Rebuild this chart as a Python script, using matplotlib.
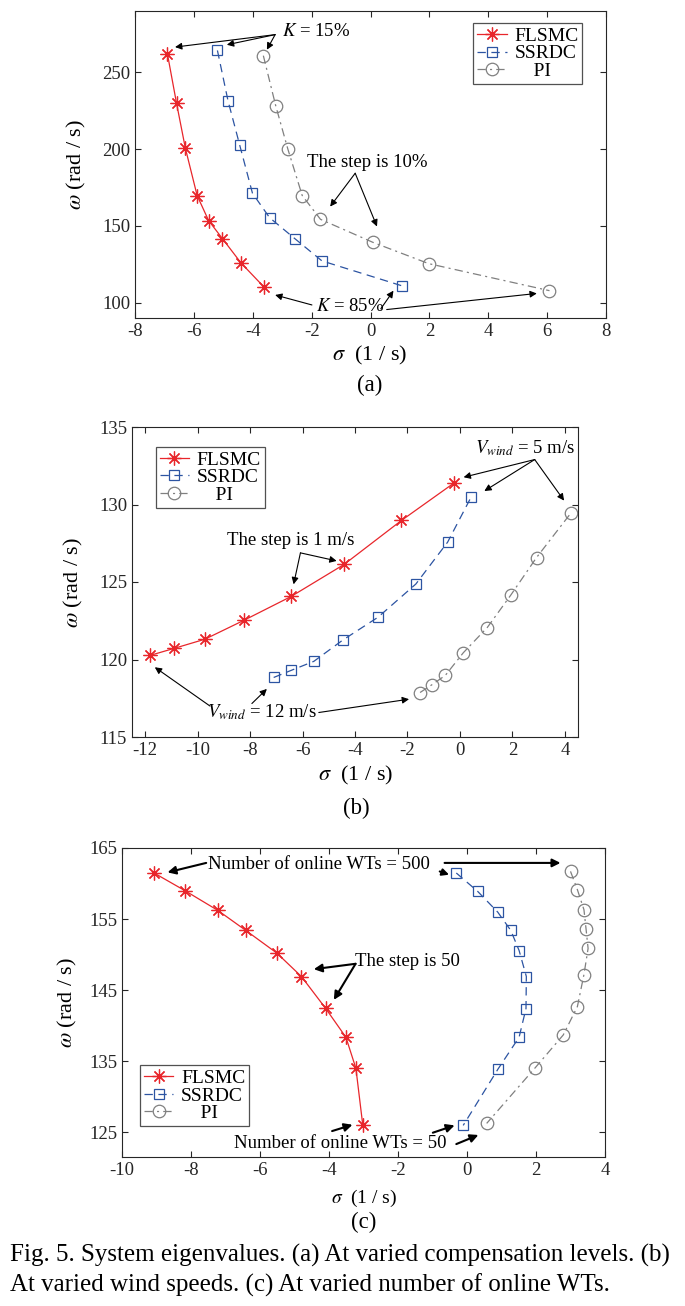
import matplotlib
matplotlib.use("Agg")
from matplotlib import pyplot as plt
import numpy as np

plt.rcParams['font.family'] = ['Liberation Serif', 'DejaVu Serif']
plt.rcParams['mathtext.fontset'] = 'stix'
plt.rcParams['lines.scale_dashes'] = False
plt.rcParams['axes.unicode_minus'] = False

###################      data (a): varied compensation level      ###############
a_flsmc_x = [-6.90, -6.59, -6.29, -5.89, -5.50, -5.03, -4.40, -3.61]
a_flsmc_y = [262.2, 230.0, 200.7, 169.8, 153.5, 141.7, 125.9, 110.0]
a_ssrdc_x = [-5.20, -4.84, -4.44, -4.01, -3.43, -2.57, -1.65, 1.08]
a_ssrdc_y = [264.3, 231.5, 202.4, 171.3, 155.4, 141.7, 127.2, 110.9]
a_pi_x = [-3.64, -3.22, -2.81, -2.32, -1.70, 0.08, 1.98, 6.08]
a_pi_y = [260.9, 228.3, 200.2, 169.8, 154.3, 139.3, 125.4, 107.8]

###################      data (b): varied wind speed      #######################
b_flsmc_x = [-11.80, -10.89, -9.72, -8.22, -6.43, -4.41, -2.23, -0.24]
b_flsmc_y = [120.27, 120.72, 121.31, 122.54, 124.07, 126.14, 128.97, 131.37]
b_ssrdc_x = [-7.10, -6.43, -5.57, -4.46, -3.12, -1.68, -0.47, 0.42]
b_ssrdc_y = [118.84, 119.30, 119.88, 121.26, 122.73, 124.87, 127.57, 130.46]
b_pi_x = [-1.52, -1.07, -0.56, 0.13, 1.04, 1.94, 2.92, 4.24]
b_pi_y = [117.87, 118.37, 118.97, 120.44, 122.06, 124.16, 126.58, 129.47]

###################      data (c): varied number of online WTs      #############
c_flsmc_x = [-9.07, -8.17, -7.22, -6.41, -5.51, -4.80, -4.10, -3.51, -3.22, -3.02]
c_flsmc_y = [161.48, 158.98, 156.21, 153.39, 150.20, 146.91, 142.44, 138.36, 133.98, 125.95]
c_ssrdc_x = [-0.31, 0.31, 0.89, 1.27, 1.51, 1.72, 1.71, 1.51, 0.90, -0.11]
c_ssrdc_y = [161.48, 158.89, 155.98, 153.39, 150.57, 146.91, 142.40, 138.36, 133.89, 125.95]
c_pi_x = [3.00, 3.20, 3.39, 3.45, 3.51, 3.39, 3.20, 2.79, 1.98, 0.57]
c_pi_y = [161.71, 159.13, 156.31, 153.63, 150.86, 147.19, 142.68, 138.68, 134.08, 126.23]

labels = ['FLSMC', 'SSRDC', '    PI']

W, H = 685, 1306
fig = plt.figure(figsize=(W / 100, H / 100), dpi=100)


def px_axes(l, t, r, b):
    return fig.add_axes([l / W, 1 - b / H, (r - l) / W, (b - t) / H])


def draw(ax, fx, fy, sx, sy, px, py):
    ax.plot(fx, fy, color='#e8262b', lw=0.9, marker=(8, 2, 0), ms=10,
            mew=0.9, label=labels[0])
    ax.plot(sx, sy, color='#2c54a2', lw=0.9, ls=(0, (6, 4)), marker='s',
            ms=7.5, mfc='none', mew=0.9, label=labels[1])
    ax.plot(px, py, color='#808080', lw=0.9, ls=(0, (6, 3, 1.5, 3)),
            marker='o', ms=9, mfc='none', mew=0.9, label=labels[2])
    ax.tick_params(direction='in', top=True, right=True, labelsize=13.5,
                   colors='#262626', length=4, width=0.8)
    for s in ax.spines.values():
        s.set_color('#262626')
        s.set_linewidth(0.8)


def leg(ax, loc, anchor=None):
    kw = dict(loc=loc, fontsize=14, frameon=True, fancybox=False,
              handlelength=1.5, handletextpad=0.4, borderpad=0.2,
              labelspacing=0.0, borderaxespad=0.0)
    if anchor is not None:
        kw['bbox_to_anchor'] = anchor
    lg = ax.legend(**kw)
    lg.get_frame().set_edgecolor('#262626')
    lg.get_frame().set_linewidth(0.9)


def arrow(ax, start, end, lw=0.8, ms=10):
    ax.annotate('', xy=end, xytext=start,
                arrowprops=dict(arrowstyle='-|>', color='k', lw=lw,
                                mutation_scale=ms, shrinkA=0, shrinkB=0))


ylab = r'$\omega$ (rad / s)'
xlab = r'$\sigma$  (1 / s)'

###################      (a)      #######################
ax = px_axes(135, 11, 606, 318)
draw(ax, a_flsmc_x, a_flsmc_y, a_ssrdc_x, a_ssrdc_y, a_pi_x, a_pi_y)
ax.set_xlim(-8, 8)
ax.set_ylim(90, 290)
ax.set_xticks(np.arange(-8, 9, 2))
ax.set_yticks([100, 150, 200, 250])
ax.set_ylabel(ylab, fontsize=16)
ax.yaxis.set_label_coords(-0.1, 0.5)
leg(ax, 'upper right', (0.95, 0.96))
ax.text(-3.0, 276.5, r'$K$ = 15%', fontsize=13.5, va='center')
arrow(ax, (-3.24, 274.6), (-6.64, 266.5))
arrow(ax, (-3.24, 274.6), (-4.88, 268.0))
arrow(ax, (-3.24, 274.6), (-3.52, 264.8))
ax.text(-0.1, 191.3, 'The step is 10%', fontsize=13.5, ha='center', va='center')
arrow(ax, (-0.52, 184.3), (-1.37, 162.6))
arrow(ax, (-0.52, 184.3), (0.22, 149.6))
ax.text(-0.69, 97.8, r'$K$ = 85%', fontsize=13.5, ha='center', va='center')
arrow(ax, (-1.99, 98.5), (-3.24, 105.0))
arrow(ax, (0.35, 96.0), (0.78, 107.8))
arrow(ax, (0.55, 95.5), (5.65, 106.0))

###################      (b)      #######################
ax = px_axes(132, 427, 578, 737)
draw(ax, b_flsmc_x, b_flsmc_y, b_ssrdc_x, b_ssrdc_y, b_pi_x, b_pi_y)
ax.set_xlim(-12.5, 4.5)
ax.set_ylim(115, 135)
ax.set_xticks(np.arange(-12, 5, 2))
ax.set_yticks([115, 120, 125, 130, 135])
ax.set_ylabel(ylab, fontsize=16)
ax.yaxis.set_label_coords(-0.105, 0.5)
leg(ax, 'upper left', (0.053, 0.935))
ax.text(2.49, 133.64, r'$V_{wind}$ = 5 m/s', fontsize=13.5, ha='center', va='center')
arrow(ax, (2.85, 132.9), (0.14, 131.76))
arrow(ax, (2.85, 132.9), (0.93, 130.87))
arrow(ax, (2.85, 132.9), (3.97, 130.25))
ax.text(-6.44, 127.7, 'The step is 1 m/s', fontsize=13.5, ha='center', va='center')
arrow(ax, (-6.08, 126.88), (-6.34, 124.85))
arrow(ax, (-6.08, 126.88), (-4.70, 126.36))
ax.text(-7.54, 116.58, r'$V_{wind}$ = 12 m/s', fontsize=13.5, ha='center', va='center')
arrow(ax, (-9.53, 117.0), (-11.63, 119.5))
arrow(ax, (-7.93, 117.16), (-7.36, 118.1))
arrow(ax, (-5.38, 116.58), (-1.94, 117.44))

###################      (c)      #######################
ax = px_axes(122, 848, 605, 1157)
draw(ax, c_flsmc_x, c_flsmc_y, c_ssrdc_x, c_ssrdc_y, c_pi_x, c_pi_y)
ax.set_xlim(-10, 4)
ax.set_ylim(121.5, 165)
ax.set_xticks(np.arange(-10, 5, 2))
ax.set_yticks([125, 135, 145, 155, 165])
ax.set_ylabel(ylab, fontsize=16)
ax.yaxis.set_label_coords(-0.09, 0.5)
leg(ax, 'lower left', (0.038, 0.1))
ax.text(-4.28, 162.65, 'Number of online WTs = 500', fontsize=13.5, ha='center', va='center')
arrow(ax, (-7.56, 162.9), (-8.68, 161.57), lw=1.5, ms=12)
arrow(ax, (-0.79, 161.7), (-0.52, 161.24), lw=1.5, ms=10)
arrow(ax, (-0.65, 162.9), (2.71, 162.9), lw=1.5, ms=12)
ax.text(-1.72, 149.02, 'The step is 50', fontsize=13.5, ha='center', va='center')
arrow(ax, (-3.23, 148.7), (-4.44, 147.94), lw=1.5, ms=12)
arrow(ax, (-3.23, 148.7), (-3.86, 143.62), lw=1.5, ms=12)
ax.text(-3.66, 123.41, 'Number of online WTs = 50', fontsize=13.5, ha='center', va='center')
arrow(ax, (-3.91, 125.15), (-3.32, 126.04), lw=1.5, ms=12)
arrow(ax, (-0.99, 124.92), (-0.36, 125.95), lw=1.5, ms=12)
arrow(ax, (-0.31, 123.32), (0.33, 124.6), lw=1.5, ms=12)

###################      labels and caption      #######################
fig.text(370 / W, 1 - 355 / H, xlab, fontsize=16, ha='center', va='center')
fig.text(370 / W, 1 - 385 / H, '(a)', fontsize=16.5, ha='center', va='center')
fig.text(356 / W, 1 - 775 / H, xlab, fontsize=16, ha='center', va='center')
fig.text(356 / W, 1 - 808 / H, '(b)', fontsize=16.5, ha='center', va='center')
fig.text(364 / W, 1 - 1198 / H, xlab, fontsize=14, ha='center', va='center')
fig.text(364 / W, 1 - 1222 / H, '(c)', fontsize=16.5, ha='center', va='center')
fig.text(10 / W, 1 - 1255 / H,
         'Fig. 5. System eigenvalues. (a) At varied compensation levels. (b)',
         fontsize=18, ha='left', va='center')
fig.text(10 / W, 1 - 1285 / H,
         'At varied wind speeds. (c) At varied number of online WTs.',
         fontsize=18, ha='left', va='center')

fig.savefig('out.png', dpi=100)
